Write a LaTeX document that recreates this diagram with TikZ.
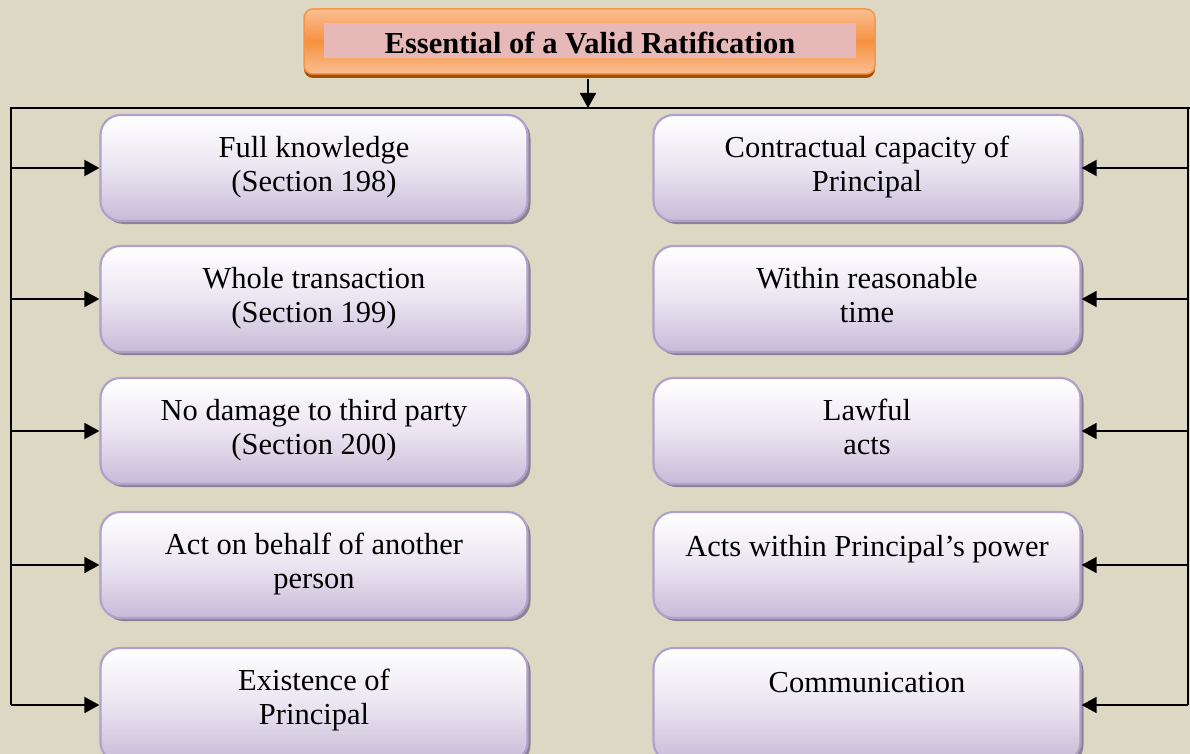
\documentclass[tikz,border=0pt]{standalone}
\usepackage{fontspec}
\setmainfont{Liberation Serif}
\usetikzlibrary{arrows.meta,shadows}
\definecolor{bg}{RGB}{221,216,195}
\definecolor{boxline}{RGB}{176,160,204}
\definecolor{boxbot}{RGB}{200,186,216}
\definecolor{boxmid}{RGB}{234,229,241}
\definecolor{boxshadow}{RGB}{140,130,145}
\definecolor{orlight}{RGB}{250,190,146}
\definecolor{ormid}{RGB}{246,146,64}
\definecolor{orline}{RGB}{247,150,70}
\definecolor{orshadow}{RGB}{166,77,0}
\definecolor{pinkin}{RGB}{230,184,183}
\begin{document}
\begin{tikzpicture}[x=1pt,y=-1pt,
  itembox/.style={draw=boxline, line width=2.2pt, rounded corners=20pt,
    minimum width=427pt, minimum height=106pt, inner sep=0pt,
    top color=white, bottom color=boxbot, middle color=boxmid,
    drop shadow={shadow xshift=3pt, shadow yshift=-3pt, fill=boxshadow, opacity=1}},
  itemtext/.style={anchor=north, align=center, inner sep=0pt,
    font=\fontsize{30.5}{34}\selectfont, execute at begin node=\strut},
  titlebox/.style={draw=orline, line width=1.5pt, rounded corners=9pt,
    minimum width=571pt, minimum height=65pt, inner sep=0pt,
    top color=orlight, bottom color=orlight, middle color=ormid,
    drop shadow={shadow xshift=0pt, shadow yshift=-4pt, fill=orshadow, opacity=1}},
  titlein/.style={fill=pinkin, minimum width=532pt, minimum height=35pt, inner sep=0pt},
  titletxt/.style={inner sep=0pt, font=\bfseries\fontsize{30.5}{34}\selectfont},
  conn/.style={line width=1.8pt, black},
  arr/.style={conn, -{Triangle[length=15pt,width=16pt]}},
]
\useasboundingbox (0,0) rectangle (1190,754);
\clip (0,0) rectangle (1190,754);
\fill[bg] (0,0) rectangle (1190,754);

% title
\node[titlebox] (title) at (589.5,41.5) {};
\node[titlein] (titlebg) at (590,40.5) {};
\node[titletxt] (titletext) at (590,43) {Essential of a Valid Ratification};

% left column
\node[itembox] (l1) at (314,168) {};
\node[itembox] (l2) at (314,299) {};
\node[itembox] (l3) at (314,431) {};
\node[itembox] (l4) at (314,565) {};
\node[itembox, minimum height=114pt] (l5) at (314,705) {};
% right column
\node[itembox] (r1) at (867,168) {};
\node[itembox] (r2) at (867,299) {};
\node[itembox] (r3) at (867,431) {};
\node[itembox] (r4) at (867,565) {};
\node[itembox, minimum height=114pt] (r5) at (867,705) {};

% texts
\node[itemtext] (l1t) at ([yshift=-22pt]l1.north) {Full knowledge\\(Section 198)};
\node[itemtext] (l2t) at ([yshift=-22pt]l2.north) {Whole transaction\\(Section 199)};
\node[itemtext] (l3t) at ([yshift=-22pt]l3.north) {No damage to third party\\(Section 200)};
\node[itemtext] (l4t) at ([yshift=-22pt]l4.north) {Act on behalf of another\\person};
\node[itemtext] (l5t) at ([yshift=-22pt]l5.north) {Existence of\\Principal};
\node[itemtext] (r1t) at ([yshift=-22pt]r1.north) {Contractual capacity of\\Principal};
\node[itemtext] (r2t) at ([yshift=-22pt]r2.north) {Within reasonable\\time};
\node[itemtext] (r3t) at ([yshift=-22pt]r3.north) {Lawful\\acts};
\node[itemtext] (r4t) at ([yshift=-22pt]r4.north) {Acts within Principal’s power};
\node[itemtext] (r5t) at ([yshift=-22pt]r5.north) {Communication};

% connectors
\coordinate (hub) at (588,108);
\coordinate (L) at (11,108);
\coordinate (R) at (1188,108);
\coordinate (Rend) at (1190,108);
\draw[arr] ([yshift=-4pt]title.south -| hub) -- (hub);
\draw[conn] (L |- l5) -- (L) -- (Rend);
\draw[conn] (R) -- (R |- r5);
\foreach \i in {1,...,5} {
  \draw[arr] (L |- l\i) -- (l\i.west);
  \draw[arr] (R |- r\i) -- (r\i.east);
}
\end{tikzpicture}
\end{document}
